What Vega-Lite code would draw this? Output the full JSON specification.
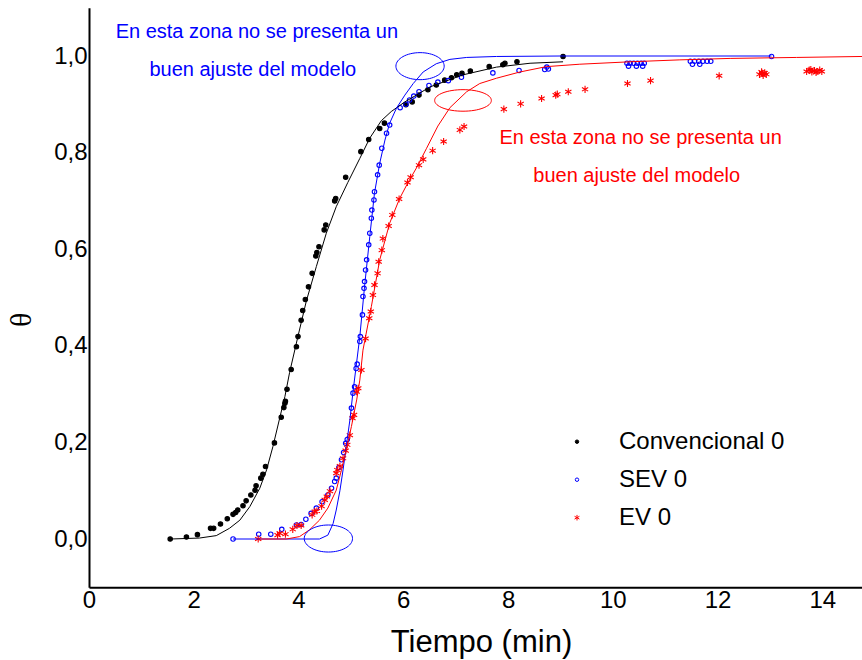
{
  "$schema": "https://vega.github.io/schema/vega-lite/v6.json",
  "width": 773,
  "height": 579.6,
  "autosize": "none",
  "padding": {"left": 89, "top": 7.7, "right": 0, "bottom": 72.7},
  "background": "white",
  "config": {
    "view": {"stroke": null},
    "font": "Liberation Sans",
    "axis": {"grid": false}
  },
  "datasets": {
    "pts": [
      {"s": "Convencional 0", "t": 1.55, "v": 0.0},
      {"s": "Convencional 0", "t": 1.86, "v": 0.004},
      {"s": "Convencional 0", "t": 2.07, "v": 0.009},
      {"s": "Convencional 0", "t": 2.32, "v": 0.022},
      {"s": "Convencional 0", "t": 2.38, "v": 0.022},
      {"s": "Convencional 0", "t": 2.51, "v": 0.031},
      {"s": "Convencional 0", "t": 2.64, "v": 0.042},
      {"s": "Convencional 0", "t": 2.75, "v": 0.051},
      {"s": "Convencional 0", "t": 2.8, "v": 0.055},
      {"s": "Convencional 0", "t": 2.84, "v": 0.06},
      {"s": "Convencional 0", "t": 2.94, "v": 0.069},
      {"s": "Convencional 0", "t": 3.0, "v": 0.079},
      {"s": "Convencional 0", "t": 3.09, "v": 0.091},
      {"s": "Convencional 0", "t": 3.17, "v": 0.101},
      {"s": "Convencional 0", "t": 3.19, "v": 0.11},
      {"s": "Convencional 0", "t": 3.28, "v": 0.126},
      {"s": "Convencional 0", "t": 3.32, "v": 0.134},
      {"s": "Convencional 0", "t": 3.37, "v": 0.15},
      {"s": "Convencional 0", "t": 3.54, "v": 0.199},
      {"s": "Convencional 0", "t": 3.67, "v": 0.252},
      {"s": "Convencional 0", "t": 3.72, "v": 0.272},
      {"s": "Convencional 0", "t": 3.74, "v": 0.281},
      {"s": "Convencional 0", "t": 3.75, "v": 0.285},
      {"s": "Convencional 0", "t": 3.78, "v": 0.31},
      {"s": "Convencional 0", "t": 3.86, "v": 0.351},
      {"s": "Convencional 0", "t": 3.96, "v": 0.398},
      {"s": "Convencional 0", "t": 3.99, "v": 0.419},
      {"s": "Convencional 0", "t": 4.05, "v": 0.453},
      {"s": "Convencional 0", "t": 4.08, "v": 0.473},
      {"s": "Convencional 0", "t": 4.13, "v": 0.496},
      {"s": "Convencional 0", "t": 4.19, "v": 0.522},
      {"s": "Convencional 0", "t": 4.26, "v": 0.55},
      {"s": "Convencional 0", "t": 4.33, "v": 0.586},
      {"s": "Convencional 0", "t": 4.35, "v": 0.593},
      {"s": "Convencional 0", "t": 4.39, "v": 0.605},
      {"s": "Convencional 0", "t": 4.49, "v": 0.64},
      {"s": "Convencional 0", "t": 4.52, "v": 0.65},
      {"s": "Convencional 0", "t": 4.69, "v": 0.7},
      {"s": "Convencional 0", "t": 4.71, "v": 0.705},
      {"s": "Convencional 0", "t": 4.9, "v": 0.749},
      {"s": "Convencional 0", "t": 5.19, "v": 0.802},
      {"s": "Convencional 0", "t": 5.34, "v": 0.827},
      {"s": "Convencional 0", "t": 5.55, "v": 0.85},
      {"s": "Convencional 0", "t": 5.64, "v": 0.861},
      {"s": "Convencional 0", "t": 6.05, "v": 0.899},
      {"s": "Convencional 0", "t": 6.17, "v": 0.905},
      {"s": "Convencional 0", "t": 6.3, "v": 0.919},
      {"s": "Convencional 0", "t": 6.47, "v": 0.93},
      {"s": "Convencional 0", "t": 6.63, "v": 0.94},
      {"s": "Convencional 0", "t": 6.79, "v": 0.95},
      {"s": "Convencional 0", "t": 6.92, "v": 0.955},
      {"s": "Convencional 0", "t": 7.02, "v": 0.961},
      {"s": "Convencional 0", "t": 7.12, "v": 0.964},
      {"s": "Convencional 0", "t": 7.28, "v": 0.969},
      {"s": "Convencional 0", "t": 7.64, "v": 0.978},
      {"s": "Convencional 0", "t": 7.9, "v": 0.982},
      {"s": "Convencional 0", "t": 7.94, "v": 0.985},
      {"s": "Convencional 0", "t": 8.17, "v": 0.988},
      {"s": "Convencional 0", "t": 9.05, "v": 0.999},
      {"s": "SEV 0", "t": 2.75, "v": 0.0},
      {"s": "SEV 0", "t": 3.24, "v": 0.01},
      {"s": "SEV 0", "t": 3.47, "v": 0.01},
      {"s": "SEV 0", "t": 3.68, "v": 0.02},
      {"s": "SEV 0", "t": 3.96, "v": 0.029},
      {"s": "SEV 0", "t": 4.05, "v": 0.03},
      {"s": "SEV 0", "t": 4.14, "v": 0.041},
      {"s": "SEV 0", "t": 4.24, "v": 0.053},
      {"s": "SEV 0", "t": 4.34, "v": 0.064},
      {"s": "SEV 0", "t": 4.45, "v": 0.077},
      {"s": "SEV 0", "t": 4.56, "v": 0.091},
      {"s": "SEV 0", "t": 4.63, "v": 0.105},
      {"s": "SEV 0", "t": 4.69, "v": 0.119},
      {"s": "SEV 0", "t": 4.72, "v": 0.126},
      {"s": "SEV 0", "t": 4.77, "v": 0.148},
      {"s": "SEV 0", "t": 4.82, "v": 0.164},
      {"s": "SEV 0", "t": 4.86, "v": 0.179},
      {"s": "SEV 0", "t": 4.9, "v": 0.198},
      {"s": "SEV 0", "t": 4.93, "v": 0.206},
      {"s": "SEV 0", "t": 5.01, "v": 0.271},
      {"s": "SEV 0", "t": 5.04, "v": 0.302},
      {"s": "SEV 0", "t": 5.07, "v": 0.315},
      {"s": "SEV 0", "t": 5.1, "v": 0.353},
      {"s": "SEV 0", "t": 5.12, "v": 0.362},
      {"s": "SEV 0", "t": 5.17, "v": 0.409},
      {"s": "SEV 0", "t": 5.18, "v": 0.419},
      {"s": "SEV 0", "t": 5.22, "v": 0.464},
      {"s": "SEV 0", "t": 5.23, "v": 0.502},
      {"s": "SEV 0", "t": 5.25, "v": 0.519},
      {"s": "SEV 0", "t": 5.26, "v": 0.533},
      {"s": "SEV 0", "t": 5.28, "v": 0.557},
      {"s": "SEV 0", "t": 5.3, "v": 0.578},
      {"s": "SEV 0", "t": 5.34, "v": 0.609},
      {"s": "SEV 0", "t": 5.36, "v": 0.633},
      {"s": "SEV 0", "t": 5.39, "v": 0.664},
      {"s": "SEV 0", "t": 5.4, "v": 0.681},
      {"s": "SEV 0", "t": 5.44, "v": 0.702},
      {"s": "SEV 0", "t": 5.45, "v": 0.719},
      {"s": "SEV 0", "t": 5.51, "v": 0.754},
      {"s": "SEV 0", "t": 5.54, "v": 0.774},
      {"s": "SEV 0", "t": 5.59, "v": 0.809},
      {"s": "SEV 0", "t": 5.68, "v": 0.84},
      {"s": "SEV 0", "t": 5.74, "v": 0.857},
      {"s": "SEV 0", "t": 5.94, "v": 0.893},
      {"s": "SEV 0", "t": 6.05, "v": 0.9},
      {"s": "SEV 0", "t": 6.12, "v": 0.909},
      {"s": "SEV 0", "t": 6.2, "v": 0.917},
      {"s": "SEV 0", "t": 6.3, "v": 0.926},
      {"s": "SEV 0", "t": 6.49, "v": 0.939},
      {"s": "SEV 0", "t": 6.66, "v": 0.946},
      {"s": "SEV 0", "t": 6.86, "v": 0.949},
      {"s": "SEV 0", "t": 7.11, "v": 0.956},
      {"s": "SEV 0", "t": 7.71, "v": 0.965},
      {"s": "SEV 0", "t": 8.21, "v": 0.97},
      {"s": "SEV 0", "t": 8.7, "v": 0.972},
      {"s": "SEV 0", "t": 8.74, "v": 0.977},
      {"s": "SEV 0", "t": 8.77, "v": 0.973},
      {"s": "SEV 0", "t": 10.27, "v": 0.985},
      {"s": "SEV 0", "t": 10.33, "v": 0.985},
      {"s": "SEV 0", "t": 10.4, "v": 0.985},
      {"s": "SEV 0", "t": 10.47, "v": 0.985},
      {"s": "SEV 0", "t": 10.54, "v": 0.985},
      {"s": "SEV 0", "t": 10.6, "v": 0.985},
      {"s": "SEV 0", "t": 10.3, "v": 0.979},
      {"s": "SEV 0", "t": 10.45, "v": 0.979},
      {"s": "SEV 0", "t": 10.57, "v": 0.979},
      {"s": "SEV 0", "t": 11.48, "v": 0.989},
      {"s": "SEV 0", "t": 11.56, "v": 0.989},
      {"s": "SEV 0", "t": 11.64, "v": 0.989},
      {"s": "SEV 0", "t": 11.72, "v": 0.989},
      {"s": "SEV 0", "t": 11.8, "v": 0.989},
      {"s": "SEV 0", "t": 11.87, "v": 0.989},
      {"s": "SEV 0", "t": 11.52, "v": 0.983},
      {"s": "SEV 0", "t": 11.66, "v": 0.983},
      {"s": "SEV 0", "t": 13.03, "v": 0.999},
      {"s": "EV 0", "t": 3.23, "v": 0.0},
      {"s": "EV 0", "t": 3.6, "v": 0.008},
      {"s": "EV 0", "t": 3.64, "v": 0.012},
      {"s": "EV 0", "t": 3.75, "v": 0.01},
      {"s": "EV 0", "t": 3.89, "v": 0.02},
      {"s": "EV 0", "t": 3.97, "v": 0.028},
      {"s": "EV 0", "t": 4.05, "v": 0.028},
      {"s": "EV 0", "t": 4.26, "v": 0.05},
      {"s": "EV 0", "t": 4.31, "v": 0.057},
      {"s": "EV 0", "t": 4.35, "v": 0.058},
      {"s": "EV 0", "t": 4.44, "v": 0.068},
      {"s": "EV 0", "t": 4.5, "v": 0.081},
      {"s": "EV 0", "t": 4.54, "v": 0.088},
      {"s": "EV 0", "t": 4.6, "v": 0.099},
      {"s": "EV 0", "t": 4.72, "v": 0.136},
      {"s": "EV 0", "t": 4.74, "v": 0.143},
      {"s": "EV 0", "t": 4.79, "v": 0.151},
      {"s": "EV 0", "t": 4.85, "v": 0.167},
      {"s": "EV 0", "t": 4.9, "v": 0.183},
      {"s": "EV 0", "t": 4.93, "v": 0.195},
      {"s": "EV 0", "t": 4.98, "v": 0.215},
      {"s": "EV 0", "t": 5.03, "v": 0.25},
      {"s": "EV 0", "t": 5.06, "v": 0.257},
      {"s": "EV 0", "t": 5.11, "v": 0.305},
      {"s": "EV 0", "t": 5.14, "v": 0.312},
      {"s": "EV 0", "t": 5.2, "v": 0.35},
      {"s": "EV 0", "t": 5.28, "v": 0.415},
      {"s": "EV 0", "t": 5.35, "v": 0.457},
      {"s": "EV 0", "t": 5.38, "v": 0.471},
      {"s": "EV 0", "t": 5.42, "v": 0.505},
      {"s": "EV 0", "t": 5.45, "v": 0.526},
      {"s": "EV 0", "t": 5.51, "v": 0.55},
      {"s": "EV 0", "t": 5.53, "v": 0.574},
      {"s": "EV 0", "t": 5.59, "v": 0.598},
      {"s": "EV 0", "t": 5.61, "v": 0.622},
      {"s": "EV 0", "t": 5.72, "v": 0.648},
      {"s": "EV 0", "t": 5.79, "v": 0.671},
      {"s": "EV 0", "t": 5.92, "v": 0.704},
      {"s": "EV 0", "t": 6.08, "v": 0.738},
      {"s": "EV 0", "t": 6.14, "v": 0.749},
      {"s": "EV 0", "t": 6.3, "v": 0.774},
      {"s": "EV 0", "t": 6.38, "v": 0.786},
      {"s": "EV 0", "t": 6.56, "v": 0.804},
      {"s": "EV 0", "t": 6.77, "v": 0.823},
      {"s": "EV 0", "t": 7.08, "v": 0.847},
      {"s": "EV 0", "t": 7.16, "v": 0.854},
      {"s": "EV 0", "t": 7.92, "v": 0.89},
      {"s": "EV 0", "t": 8.24, "v": 0.901},
      {"s": "EV 0", "t": 8.64, "v": 0.912},
      {"s": "EV 0", "t": 8.91, "v": 0.919},
      {"s": "EV 0", "t": 8.94, "v": 0.921},
      {"s": "EV 0", "t": 9.15, "v": 0.926},
      {"s": "EV 0", "t": 9.47, "v": 0.931},
      {"s": "EV 0", "t": 10.28, "v": 0.943},
      {"s": "EV 0", "t": 10.72, "v": 0.949},
      {"s": "EV 0", "t": 12.03, "v": 0.959},
      {"s": "EV 0", "t": 12.8, "v": 0.962},
      {"s": "EV 0", "t": 12.84, "v": 0.967},
      {"s": "EV 0", "t": 12.87, "v": 0.96},
      {"s": "EV 0", "t": 12.9, "v": 0.965},
      {"s": "EV 0", "t": 12.93, "v": 0.962},
      {"s": "EV 0", "t": 12.86, "v": 0.964},
      {"s": "EV 0", "t": 13.7, "v": 0.968},
      {"s": "EV 0", "t": 13.75, "v": 0.971},
      {"s": "EV 0", "t": 13.8, "v": 0.967},
      {"s": "EV 0", "t": 13.85, "v": 0.97},
      {"s": "EV 0", "t": 13.9, "v": 0.968},
      {"s": "EV 0", "t": 13.95, "v": 0.971},
      {"s": "EV 0", "t": 13.99, "v": 0.968},
      {"s": "EV 0", "t": 13.78, "v": 0.972},
      {"s": "EV 0", "t": 13.88, "v": 0.966}
    ],
    "curves": [
      {"s": "Convencional 0", "t": 1.56, "v": 0.0},
      {"s": "Convencional 0", "t": 2.11, "v": 0.002},
      {"s": "Convencional 0", "t": 2.43, "v": 0.007},
      {"s": "Convencional 0", "t": 2.68, "v": 0.022},
      {"s": "Convencional 0", "t": 2.88, "v": 0.039},
      {"s": "Convencional 0", "t": 3.07, "v": 0.067},
      {"s": "Convencional 0", "t": 3.26, "v": 0.105},
      {"s": "Convencional 0", "t": 3.39, "v": 0.143},
      {"s": "Convencional 0", "t": 3.51, "v": 0.191},
      {"s": "Convencional 0", "t": 3.64, "v": 0.25},
      {"s": "Convencional 0", "t": 3.74, "v": 0.295},
      {"s": "Convencional 0", "t": 3.83, "v": 0.345},
      {"s": "Convencional 0", "t": 3.99, "v": 0.42},
      {"s": "Convencional 0", "t": 4.15, "v": 0.493},
      {"s": "Convencional 0", "t": 4.34, "v": 0.564},
      {"s": "Convencional 0", "t": 4.53, "v": 0.633},
      {"s": "Convencional 0", "t": 4.72, "v": 0.688},
      {"s": "Convencional 0", "t": 4.94, "v": 0.738},
      {"s": "Convencional 0", "t": 5.17, "v": 0.788},
      {"s": "Convencional 0", "t": 5.36, "v": 0.83},
      {"s": "Convencional 0", "t": 5.58, "v": 0.866},
      {"s": "Convencional 0", "t": 5.77, "v": 0.885},
      {"s": "Convencional 0", "t": 6.03, "v": 0.905},
      {"s": "Convencional 0", "t": 6.25, "v": 0.919},
      {"s": "Convencional 0", "t": 6.51, "v": 0.936},
      {"s": "Convencional 0", "t": 7.14, "v": 0.961},
      {"s": "Convencional 0", "t": 7.78, "v": 0.977},
      {"s": "Convencional 0", "t": 8.42, "v": 0.985},
      {"s": "Convencional 0", "t": 9.05, "v": 0.988},
      {"s": "SEV 0", "t": 2.75, "v": 0.0},
      {"s": "SEV 0", "t": 4.4, "v": 0.0},
      {"s": "SEV 0", "t": 4.56, "v": 0.008},
      {"s": "SEV 0", "t": 4.66, "v": 0.032},
      {"s": "SEV 0", "t": 4.72, "v": 0.06},
      {"s": "SEV 0", "t": 4.79, "v": 0.1},
      {"s": "SEV 0", "t": 4.85, "v": 0.143},
      {"s": "SEV 0", "t": 4.91, "v": 0.191},
      {"s": "SEV 0", "t": 4.98, "v": 0.246},
      {"s": "SEV 0", "t": 5.04, "v": 0.305},
      {"s": "SEV 0", "t": 5.17, "v": 0.419},
      {"s": "SEV 0", "t": 5.26, "v": 0.522},
      {"s": "SEV 0", "t": 5.36, "v": 0.626},
      {"s": "SEV 0", "t": 5.45, "v": 0.716},
      {"s": "SEV 0", "t": 5.55, "v": 0.778},
      {"s": "SEV 0", "t": 5.65, "v": 0.826},
      {"s": "SEV 0", "t": 5.74, "v": 0.861},
      {"s": "SEV 0", "t": 5.87, "v": 0.892},
      {"s": "SEV 0", "t": 6.03, "v": 0.919},
      {"s": "SEV 0", "t": 6.19, "v": 0.943},
      {"s": "SEV 0", "t": 6.38, "v": 0.967},
      {"s": "SEV 0", "t": 6.63, "v": 0.984},
      {"s": "SEV 0", "t": 6.89, "v": 0.993},
      {"s": "SEV 0", "t": 7.21, "v": 0.997},
      {"s": "SEV 0", "t": 7.78, "v": 0.999},
      {"s": "SEV 0", "t": 9.0, "v": 1.0},
      {"s": "SEV 0", "t": 13.03, "v": 1.0},
      {"s": "EV 0", "t": 3.23, "v": 0.0},
      {"s": "EV 0", "t": 3.77, "v": 0.0},
      {"s": "EV 0", "t": 4.02, "v": 0.005},
      {"s": "EV 0", "t": 4.21, "v": 0.019},
      {"s": "EV 0", "t": 4.4, "v": 0.039},
      {"s": "EV 0", "t": 4.56, "v": 0.064},
      {"s": "EV 0", "t": 4.72, "v": 0.101},
      {"s": "EV 0", "t": 4.82, "v": 0.143},
      {"s": "EV 0", "t": 4.91, "v": 0.184},
      {"s": "EV 0", "t": 5.01, "v": 0.233},
      {"s": "EV 0", "t": 5.11, "v": 0.288},
      {"s": "EV 0", "t": 5.17, "v": 0.329},
      {"s": "EV 0", "t": 5.23, "v": 0.391},
      {"s": "EV 0", "t": 5.39, "v": 0.481},
      {"s": "EV 0", "t": 5.55, "v": 0.578},
      {"s": "EV 0", "t": 5.74, "v": 0.654},
      {"s": "EV 0", "t": 5.93, "v": 0.705},
      {"s": "EV 0", "t": 6.09, "v": 0.738},
      {"s": "EV 0", "t": 6.25, "v": 0.768},
      {"s": "EV 0", "t": 6.44, "v": 0.808},
      {"s": "EV 0", "t": 6.66, "v": 0.855},
      {"s": "EV 0", "t": 6.89, "v": 0.893},
      {"s": "EV 0", "t": 7.21, "v": 0.926},
      {"s": "EV 0", "t": 7.46, "v": 0.943},
      {"s": "EV 0", "t": 7.78, "v": 0.954},
      {"s": "EV 0", "t": 8.23, "v": 0.967},
      {"s": "EV 0", "t": 8.73, "v": 0.978},
      {"s": "EV 0", "t": 9.37, "v": 0.983},
      {"s": "EV 0", "t": 10.33, "v": 0.988},
      {"s": "EV 0", "t": 11.28, "v": 0.992},
      {"s": "EV 0", "t": 12.24, "v": 0.995},
      {"s": "EV 0", "t": 13.51, "v": 0.997},
      {"s": "EV 0", "t": 14.76, "v": 0.999}
    ]
  },
  "layer": [
    {
      "data": {"name": "pts"},
      "mark": {"type": "point", "opacity": 1, "strokeWidth": 1.1, "size": 20},
      "encoding": {
        "x": {
          "field": "t", "type": "quantitative",
          "scale": {"domain": [0, 14.757], "nice": false, "zero": false},
          "axis": {
            "title": "Tiempo (min)", "values": [0, 2, 4, 6, 8, 10, 12, 14], "format": "d",
            "ticks": false, "labelFontSize": 24, "labelColor": "black", "labelPadding": 1.5,
            "labelFont": "Liberation Sans", "labelFlush": false,
            "domainColor": "black", "domainWidth": 2,
            "titleFont": "Liberation Sans", "titleFontSize": 31, "titleFontWeight": "normal", "titleColor": "black",
            "titleX": 392, "titleY": 64.5, "titleBaseline": "alphabetic", "titleAlign": "center"
          }
        },
        "y": {
          "field": "v", "type": "quantitative",
          "scale": {"domain": [-0.1, 1.1], "nice": false, "zero": false},
          "axis": {
            "title": "θ", "values": [0, 0.2, 0.4, 0.6, 0.8, 1.0],
            "labelExpr": "replace(format(datum.value, '.1f'), '.', ',')",
            "ticks": false, "labelFontSize": 24, "labelColor": "black", "labelPadding": 2,
            "labelFont": "Liberation Sans", "labelFlush": false,
            "domainColor": "black", "domainWidth": 2,
            "titleFont": "Liberation Serif", "titleFontSize": 30, "titleFontWeight": "normal", "titleColor": "black",
            "titleAngle": 270, "titleX": -68, "titleY": 311.5, "titleBaseline": "middle", "titleAlign": "center"
          }
        },
        "fill": {
          "field": "s", "type": "nominal",
          "scale": {"domain": ["Convencional 0", "SEV 0", "EV 0"], "range": ["black", "transparent", "transparent"]},
          "legend": {
            "title": null, "orient": "none", "legendX": 476, "legendY": 422, "padding": 0,
            "labelFontSize": 24, "labelFont": "Liberation Sans", "labelOffset": 30, "rowPadding": 14, "labelLimit": 400,
            "symbolSize": 12, "symbolStrokeWidth": 1,
            "encode": {"labels": {"update": {"fill": {"signal": "datum.value === 'Convencional 0' ? 'black' : (datum.value === 'SEV 0' ? 'blue' : 'red')"}}}}
          }
        },
        "stroke": {
          "field": "s", "type": "nominal",
          "scale": {"domain": ["Convencional 0", "SEV 0", "EV 0"], "range": ["black", "blue", "red"]},
          "legend": {
            "title": null, "orient": "none", "legendX": 476, "legendY": 422, "padding": 0,
            "labelFontSize": 24, "labelFont": "Liberation Sans", "labelOffset": 30, "rowPadding": 14, "labelLimit": 400,
            "symbolSize": 12, "symbolStrokeWidth": 1,
            "encode": {"labels": {"update": {"fill": {"signal": "datum.value === 'Convencional 0' ? 'black' : (datum.value === 'SEV 0' ? 'blue' : 'red')"}}}}
          }
        },
        "shape": {
          "field": "s", "type": "nominal",
          "scale": {"domain": ["Convencional 0", "SEV 0", "EV 0"], "range": ["circle", "circle", "M0,-1.6L0,1.6M-1.4,-0.8L1.4,0.8M-1.4,0.8L1.4,-0.8"]},
          "legend": {
            "title": null, "orient": "none", "legendX": 476, "legendY": 422, "padding": 0,
            "labelFontSize": 24, "labelFont": "Liberation Sans", "labelOffset": 30, "rowPadding": 14, "labelLimit": 400,
            "symbolSize": 12, "symbolStrokeWidth": 1,
            "encode": {"labels": {"update": {"fill": {"signal": "datum.value === 'Convencional 0' ? 'black' : (datum.value === 'SEV 0' ? 'blue' : 'red')"}}}}
          }
        }
      }
    },
    {
      "mark": {"type": "rule", "strokeWidth": 2, "color": "black"},
      "encoding": {
        "y": {"datum": 1.1, "type": "quantitative", "scale": {"domain": [-0.1, 1.1], "nice": false, "zero": false}}
      }
    },
    {
      "data": {"name": "curves"},
      "transform": [{"filter": "datum.s === 'Convencional 0'"}],
      "mark": {"type": "line", "strokeWidth": 1, "color": "black"},
      "encoding": {
        "x": {"field": "t", "type": "quantitative", "scale": {"domain": [0, 14.757], "nice": false, "zero": false}},
        "y": {"field": "v", "type": "quantitative", "scale": {"domain": [-0.1, 1.1], "nice": false, "zero": false}}
      }
    },
    {
      "data": {"name": "curves"},
      "transform": [{"filter": "datum.s === 'SEV 0'"}],
      "mark": {"type": "line", "strokeWidth": 1, "color": "blue"},
      "encoding": {
        "x": {"field": "t", "type": "quantitative", "scale": {"domain": [0, 14.757], "nice": false, "zero": false}},
        "y": {"field": "v", "type": "quantitative", "scale": {"domain": [-0.1, 1.1], "nice": false, "zero": false}}
      }
    },
    {
      "data": {"name": "curves"},
      "transform": [{"filter": "datum.s === 'EV 0'"}],
      "mark": {"type": "line", "strokeWidth": 1, "color": "red"},
      "encoding": {
        "x": {"field": "t", "type": "quantitative", "scale": {"domain": [0, 14.757], "nice": false, "zero": false}},
        "y": {"field": "v", "type": "quantitative", "scale": {"domain": [-0.1, 1.1], "nice": false, "zero": false}}
      }
    },
    {
      "data": {"values": [{"t": 6.32, "v": 0.979}, {"t": 4.57, "v": 0.001}]},
      "mark": {"type": "point", "filled": false, "opacity": 1, "strokeWidth": 1, "color": "blue", "size": 2330, "shape": "M-1,0A1,0.56,0,1,1,1,0A1,0.56,0,1,1,-1,0Z"},
      "encoding": {
        "x": {"field": "t", "type": "quantitative", "scale": {"domain": [0, 14.757], "nice": false, "zero": false}},
        "y": {"field": "v", "type": "quantitative", "scale": {"domain": [-0.1, 1.1], "nice": false, "zero": false}}
      }
    },
    {
      "data": {"values": [{"t": 7.14, "v": 0.908}]},
      "mark": {"type": "point", "filled": false, "opacity": 1, "strokeWidth": 1, "color": "red", "size": 3215, "shape": "M-1,0A1,0.38,0,1,1,1,0A1,0.38,0,1,1,-1,0Z"},
      "encoding": {
        "x": {"field": "t", "type": "quantitative", "scale": {"domain": [0, 14.757], "nice": false, "zero": false}},
        "y": {"field": "v", "type": "quantitative", "scale": {"domain": [-0.1, 1.1], "nice": false, "zero": false}}
      }
    },
    {
      "data": {"values": [
        {"t": 3.204, "v": 1.038, "txt": "En esta zona no se presenta un"},
        {"t": 3.127, "v": 0.959, "txt": "buen ajuste del modelo"}
      ]},
      "mark": {"type": "text", "font": "Liberation Sans", "fontSize": 20, "align": "center", "baseline": "alphabetic", "color": "blue"},
      "encoding": {
        "x": {"field": "t", "type": "quantitative", "scale": {"domain": [0, 14.757], "nice": false, "zero": false}},
        "y": {"field": "v", "type": "quantitative", "scale": {"domain": [-0.1, 1.1], "nice": false, "zero": false}},
        "text": {"field": "txt"}
      }
    },
    {
      "data": {"values": [
        {"t": 10.53, "v": 0.817, "txt": "En esta zona no se presenta un"},
        {"t": 10.456, "v": 0.7385, "txt": "buen ajuste del modelo"}
      ]},
      "mark": {"type": "text", "font": "Liberation Sans", "fontSize": 20, "align": "center", "baseline": "alphabetic", "color": "red"},
      "encoding": {
        "x": {"field": "t", "type": "quantitative", "scale": {"domain": [0, 14.757], "nice": false, "zero": false}},
        "y": {"field": "v", "type": "quantitative", "scale": {"domain": [-0.1, 1.1], "nice": false, "zero": false}},
        "text": {"field": "txt"}
      }
    }
  ]
}
